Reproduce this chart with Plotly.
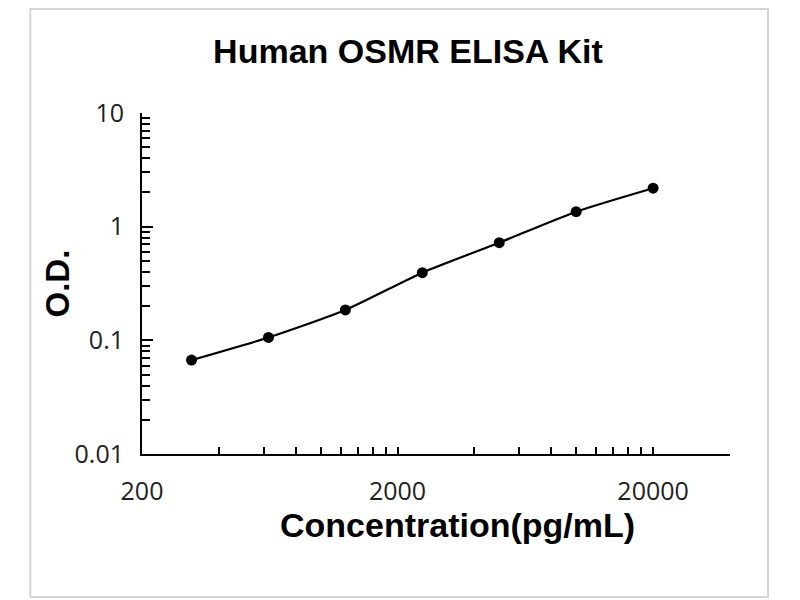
import numpy as np
import plotly.graph_objects as go

# standard curve
concentration = [312.5, 625, 1250, 2500, 5000, 10000, 20000]
od = [0.067, 0.106, 0.185, 0.394, 0.723, 1.355, 2.18]

x_ticks = [200, 2000, 20000]
x_tick_text = ["200", "2000", "20000"]
x_minor = [400, 600, 800, 1000, 1200, 1400, 1600, 1800,
           4000, 6000, 8000, 10000, 12000, 14000, 16000, 18000, 40000]
y_ticks = [0.01, 0.1, 1, 10]
y_tick_text = ["0.01", "0.1", "1", "10"]
y_minor = [0.02, 0.03, 0.04, 0.05, 0.06, 0.07, 0.08, 0.09,
           0.2, 0.3, 0.4, 0.5, 0.6, 0.7, 0.8, 0.9,
           2, 3, 4, 5, 6, 7, 8, 9]

# the page puts the figure 8px in from the corner, margins allow for it
fig = go.Figure(
    data=[go.Scatter(x=concentration, y=od, mode="lines+markers",
                     line=dict(color="black", width=2.2, shape="spline", smoothing=0.6),
                     marker=dict(color="black", size=11),
                     showlegend=False)],
    layout=go.Layout(
        title=dict(text="<b>Human OSMR ELISA Kit</b>", x=0.5, xanchor="center",
                   y=1 - 43 / 600, yanchor="middle", yref="container",
                   font=dict(family="Liberation Sans", size=34, color="black")),
        xaxis=dict(type="log", range=[np.log10(200), np.log10(40000) + 1e-6],
                   tickmode="array", tickvals=x_ticks, ticktext=x_tick_text,
                   showline=True, linecolor="black", linewidth=2, mirror=False,
                   ticks="inside", ticklen=7, tickwidth=2, tickcolor="black",
                   ticklabelstandoff=14, showgrid=False, zeroline=False,
                   minor=dict(tickmode="array", tickvals=x_minor, ticks="inside",
                              ticklen=7, tickwidth=2, tickcolor="black", showgrid=False),
                   tickfont=dict(family="Open Sans", size=25, color="#222222")),
        yaxis=dict(type="log", range=[-2, 1],
                   tickmode="array", tickvals=y_ticks, ticktext=y_tick_text,
                   showline=True, linecolor="black", linewidth=2,
                   ticks="inside", ticklen=11, tickwidth=2, tickcolor="black",
                   ticklabelstandoff=11, showgrid=False, zeroline=False,
                   minor=dict(tickmode="array", tickvals=y_minor, ticks="inside",
                              ticklen=8, tickwidth=2, tickcolor="black", showgrid=False),
                   tickfont=dict(family="Open Sans", size=25, color="#222222")),
        font=dict(family="Liberation Sans", color="black"),
        plot_bgcolor="white",
        paper_bgcolor="white",
        margin=dict(l=134, r=78, t=105, b=154),
        width=800, height=600,
        annotations=[
            dict(text="<b>Concentration(pg/mL)</b>", xref="paper", yref="paper",
                 x=0.536, y=-0.208, xanchor="center", yanchor="middle", showarrow=False,
                 font=dict(family="Liberation Sans", size=34, color="black")),
            dict(text="<b>O.D.</b>", xref="paper", yref="paper", textangle=-90,
                 x=-0.144, y=0.501, xanchor="center", yanchor="middle", showarrow=False,
                 font=dict(family="Liberation Sans", size=33, color="black")),
        ],
        shapes=[dict(type="rect", xref="paper", yref="paper",
                     x0=-0.19, x1=1.0646, y0=-0.419, y1=1.305,
                     line=dict(color="#d4d4d4", width=2), layer="below")],
    )
)

fig.write_html("out.html")
